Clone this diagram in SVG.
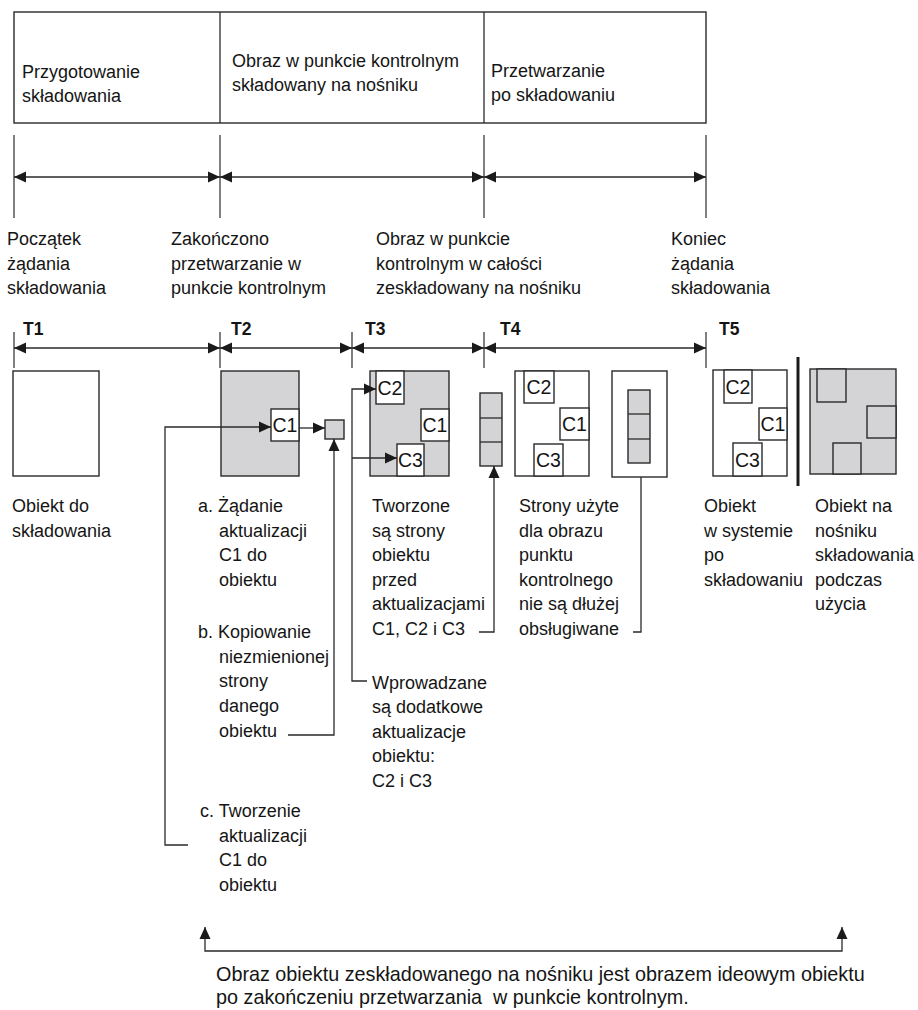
<svg xmlns="http://www.w3.org/2000/svg" width="918" height="1010" viewBox="0 0 918 1010">
<defs>
<marker id="ah" viewBox="0 0 12 12" refX="12" refY="6" markerWidth="13" markerHeight="12" markerUnits="userSpaceOnUse" orient="auto-start-reverse">
<path d="M0,0.5 L12,6 L0,11.5 z" fill="#1a1a1a"/>
</marker>
</defs>
<style>
text{font-family:"Liberation Sans",Arial,sans-serif;font-size:18px;fill:#151515}
.b{font-weight:bold;font-size:17.5px}
.c{font-size:19.5px;text-anchor:middle}
.ln{fill:none;stroke:#2a2a2a;stroke-width:1.3}
.tk{fill:none;stroke:#2a2a2a;stroke-width:1.2}
.ar{fill:none;stroke:#2a2a2a;stroke-width:1.3;marker-start:url(#ah);marker-end:url(#ah)}
.cn{fill:none;stroke:#2a2a2a;stroke-width:1.3}
.ae{marker-end:url(#ah)}
.w{fill:#fff;stroke:#2a2a2a;stroke-width:1.4}
.g{fill:#d4d4d6;stroke:#2a2a2a;stroke-width:1.4}
.bt{white-space:pre}
</style>

<g id="phases">
<rect x="14" y="12" width="692" height="111" class="w"/>
<line x1="220" y1="12" x2="220" y2="123" class="ln" stroke="#555"/>
<line x1="484" y1="12" x2="484" y2="123" class="ln"/>
<text x="22" y="78">Przygotowanie</text>
<text x="22" y="102">składowania</text>
<text x="232" y="67">Obraz w punkcie kontrolnym</text>
<text x="232" y="91">składowany na nośniku</text>
<text x="491" y="77">Przetwarzanie</text>
<text x="491" y="101">po składowaniu</text>
</g>

<g id="phase-timeline">
<line x1="14" y1="135" x2="14" y2="218" class="tk"/>
<line x1="220" y1="135" x2="220" y2="218" class="tk"/>
<line x1="484" y1="135" x2="484" y2="218" class="tk"/>
<line x1="706" y1="135" x2="706" y2="218" class="tk"/>
<line x1="14" y1="177" x2="220" y2="177" class="ar"/>
<line x1="220" y1="177" x2="484" y2="177" class="ar"/>
<line x1="484" y1="177" x2="706" y2="177" class="ar"/>
</g>

<g id="milestones">
<text x="7" y="245">Początek</text>
<text x="7" y="270">żądania</text>
<text x="7" y="294">składowania</text>
<text x="171" y="245">Zakończono</text>
<text x="171" y="270">przetwarzanie w</text>
<text x="171" y="294">punkcie kontrolnym</text>
<text x="376" y="245">Obraz w punkcie</text>
<text x="376" y="270">kontrolnym w całości</text>
<text x="376" y="294">zeskładowany na nośniku</text>
<text x="671" y="245">Koniec</text>
<text x="671" y="270">żądania</text>
<text x="671" y="294">składowania</text>
</g>

<g id="t-timeline">
<line x1="14" y1="332" x2="14" y2="368" class="tk"/>
<line x1="220" y1="332" x2="220" y2="368" class="tk"/>
<line x1="352" y1="332" x2="352" y2="368" class="tk"/>
<line x1="484" y1="332" x2="484" y2="368" class="tk"/>
<line x1="706" y1="332" x2="706" y2="368" class="tk"/>
<line x1="14" y1="348" x2="220" y2="348" class="ar"/>
<line x1="220" y1="348" x2="352" y2="348" class="ar"/>
<line x1="352" y1="348" x2="484" y2="348" class="ar"/>
<line x1="484" y1="348" x2="706" y2="348" class="ar"/>
<text x="23" y="335" class="b">T1</text>
<text x="231" y="335" class="b">T2</text>
<text x="365" y="335" class="b">T3</text>
<text x="500" y="335" class="b">T4</text>
<text x="719" y="335" class="b">T5</text>
</g>

<g id="t1-object">
<rect x="13" y="371" width="86" height="105" class="w"/>
<text x="12" y="512">Obiekt do</text>
<text x="12" y="537">składowania</text>
</g>

<g id="t2-object">
<rect x="221" y="371" width="78" height="105" class="g"/>
<rect x="271" y="409" width="28" height="32" class="w"/>
<text x="285" y="432" class="c">C1</text>
</g>

<g id="t2-page">
<rect x="325" y="420" width="19" height="19" class="g"/>
</g>

<g id="t2-notes">
<text x="198" y="512">a. Żądanie</text>
<text x="219" y="537">aktualizacji</text>
<text x="219" y="561">C1 do</text>
<text x="219" y="586">obiektu</text>
<text x="198" y="638">b. Kopiowanie</text>
<text x="219" y="663">niezmienionej</text>
<text x="219" y="687">strony</text>
<text x="219" y="712">danego</text>
<text x="219" y="737">obiektu</text>
<text x="200" y="817">c. Tworzenie</text>
<text x="219" y="842">aktualizacji</text>
<text x="219" y="866">C1 do</text>
<text x="219" y="891">obiektu</text>
</g>

<g id="t3-object">
<rect x="370" y="371" width="79" height="105" class="g"/>
<rect x="376" y="371" width="28" height="33" class="w"/>
<text x="390" y="395" class="c">C2</text>
<rect x="421" y="409" width="28" height="32" class="w"/>
<text x="435" y="432" class="c">C1</text>
<rect x="397" y="444" width="27" height="32" class="w"/>
<text x="410.5" y="467" class="c">C3</text>
</g>

<g id="t3-notes">
<text x="372" y="512">Tworzone</text>
<text x="372" y="537">są strony</text>
<text x="372" y="561">obiektu</text>
<text x="372" y="586">przed</text>
<text x="372" y="610">aktualizacjami</text>
<text x="372" y="635">C1, C2 i C3</text>
<text x="372" y="689">Wprowadzane</text>
<text x="372" y="713">są dodatkowe</text>
<text x="372" y="738">aktualizacje</text>
<text x="372" y="762">obiektu:</text>
<text x="372" y="787">C2 i C3</text>
</g>

<g id="t4-pages">
<rect x="480" y="393" width="22" height="73" class="g"/>
<line x1="480" y1="418" x2="502" y2="418" class="ln"/>
<line x1="480" y1="442" x2="502" y2="442" class="ln"/>
</g>

<g id="t4-object">
<rect x="515" y="371" width="74" height="105" class="w"/>
<rect x="524" y="371" width="30" height="32" class="w"/>
<text x="539" y="394" class="c">C2</text>
<rect x="560" y="408" width="29" height="32" class="w"/>
<text x="574.5" y="431" class="c">C1</text>
<rect x="534" y="444" width="29" height="32" class="w"/>
<text x="548.5" y="467" class="c">C3</text>
</g>

<g id="t4-released">
<rect x="612" y="371" width="55" height="106" class="w"/>
<rect x="628" y="390" width="22" height="73" class="g"/>
<line x1="628" y1="414" x2="650" y2="414" class="ln"/>
<line x1="628" y1="439" x2="650" y2="439" class="ln"/>
</g>

<g id="t4-notes">
<text x="519" y="512">Strony użyte</text>
<text x="519" y="537">dla obrazu</text>
<text x="519" y="561">punktu</text>
<text x="519" y="586">kontrolnego</text>
<text x="519" y="610">nie są dłużej</text>
<text x="519" y="635">obsługiwane</text>
</g>

<g id="t5-object">
<rect x="713" y="370" width="74" height="106" class="w"/>
<rect x="724" y="370" width="28" height="33" class="w"/>
<text x="738" y="394" class="c">C2</text>
<rect x="759" y="408" width="28" height="32" class="w"/>
<text x="773" y="431" class="c">C1</text>
<rect x="733" y="443" width="29" height="33" class="w"/>
<text x="747.5" y="467" class="c">C3</text>
<text x="704" y="512">Obiekt</text>
<text x="704" y="537">w systemie</text>
<text x="704" y="561">po</text>
<text x="704" y="586">składowaniu</text>
</g>

<g id="separator">
<line x1="798" y1="357" x2="798" y2="486" stroke="#1a1a1a" stroke-width="3"/>
</g>

<g id="media-object">
<rect x="810" y="369" width="86" height="105" class="g"/>
<rect x="817" y="369" width="29" height="33" class="g"/>
<rect x="867" y="406" width="29" height="32" class="g"/>
<rect x="833" y="443" width="28" height="31" class="g"/>
<text x="815" y="512">Obiekt na</text>
<text x="815" y="537">nośniku</text>
<text x="815" y="561">składowania</text>
<text x="815" y="586">podczas</text>
<text x="815" y="610">użycia</text>
</g>

<g id="connectors">
<path d="M188,845 H165 V427 H271" class="cn ae"/>
<path d="M299,428 H325" class="cn ae"/>
<path d="M288,735 H334 V439" class="cn ae"/>
<path d="M367,681 H352 V389 H376" class="cn ae"/>
<path d="M352,458 H397" class="cn ae"/>
<path d="M479,632 H494 V466" class="cn ae"/>
<path d="M633,632 H641 V477" class="cn"/>
<path d="M205,927 V951 H842 V927" class="cn" marker-start="url(#ah)" marker-end="url(#ah)"/>
</g>

<g id="summary">
<text x="216" y="981" style="font-size:19.8px">Obraz obiektu zeskładowanego na nośniku jest obrazem ideowym obiektu</text>
<text x="216" y="1004" style="font-size:19.8px" class="bt" xml:space="preserve">po zakończeniu przetwarzania  w punkcie kontrolnym.</text>
</g>
</svg>
